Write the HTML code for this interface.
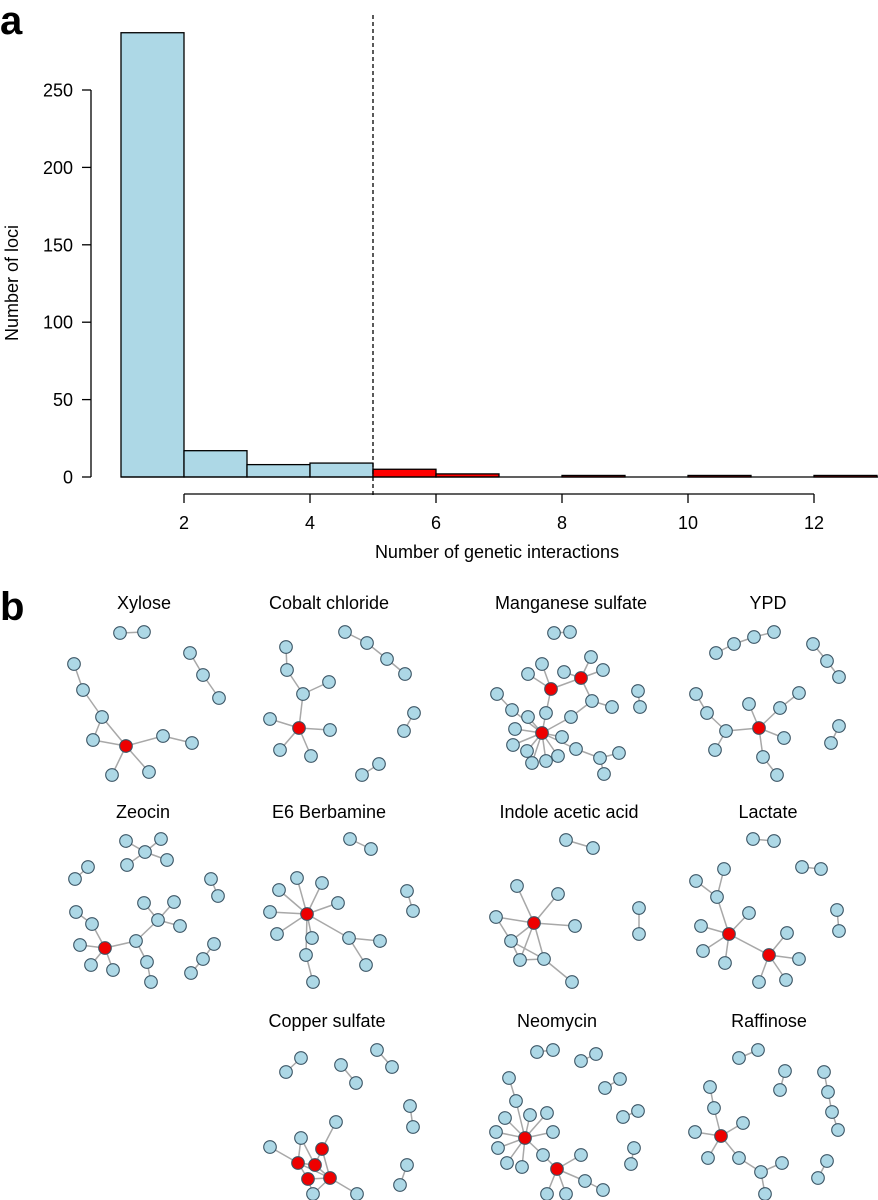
<!DOCTYPE html>
<html><head><meta charset="utf-8">
<style>
html,body{margin:0;padding:0;background:#fff;}
svg{display:block;font-family:"Liberation Sans",Arial,sans-serif;}
</style></head>
<body>
<svg id="fig" width="878" height="1200" viewBox="0 0 878 1200" xmlns="http://www.w3.org/2000/svg">
<text x="0" y="34" font-size="40" font-weight="bold">a</text>
<text x="0" y="620" font-size="40" font-weight="bold">b</text>
<g id="hist"></g>
<g id="nets"></g>
</svg>
<script>
// ---- Histogram data ----
const binStarts = [1,2,3,4,5,6,7,8,9,10,11,12];
const binCounts = [287,17,8,9,5,2,0,1,0,1,0,1];
const yTicks = [0,50,100,150,200,250];
const xTicks = [2,4,6,8,10,12];
const threshold = 5;

const NS = "http://www.w3.org/2000/svg";
function mk(tag, attrs, parent){ const e=document.createElementNS(NS,tag); for(const k in attrs) e.setAttribute(k,attrs[k]); parent.appendChild(e); return e; }
const hist = document.getElementById('hist');
const xs = v => 184 + (v-2)*63;
const ys = v => 477 - v*1.548;

binStarts.forEach((b,i)=>{
  const r = mk('rect',{x:xs(b),y:ys(binCounts[i]),width:63,height:Math.max(binCounts[i]*1.548,0),
    fill: b>=threshold ? '#ff0000' : '#add8e6', stroke:'#000','stroke-width':1.3}, hist);
  
  
});
const base = mk('line',{x1:xs(1),x2:878,y1:477,y2:477,stroke:'#000','stroke-width':1.3},hist);


const yax = mk('line',{x1:91,x2:91,y1:ys(250),y2:ys(0),stroke:'#000','stroke-width':1.3},hist);


yTicks.forEach(t=>{
  mk('line',{x1:82,x2:91,y1:ys(t),y2:ys(t),stroke:'#000','stroke-width':1.3},hist);
  const tx = mk('text',{x:73,y:ys(t)+6.5,'font-size':18,'text-anchor':'end'},hist);
  tx.textContent=t;
  
  
});
const xax = mk('line',{x1:xs(2),x2:xs(12),y1:494,y2:494,stroke:'#000','stroke-width':1.3},hist);


xTicks.forEach(t=>{
  mk('line',{x1:xs(t),x2:xs(t),y1:494,y2:503,stroke:'#000','stroke-width':1.3},hist);
  const tx = mk('text',{x:xs(t),y:529,'font-size':18,'text-anchor':'middle'},hist);
  tx.textContent=t;
  
  
});
const dl = mk('line',{x1:xs(threshold),x2:xs(threshold),y1:15,y2:496,stroke:'#000','stroke-width':1.3,'stroke-dasharray':'4,3'},hist);


const xt = mk('text',{x:497,y:558,'font-size':18,'text-anchor':'middle'},hist);
xt.textContent='Number of genetic interactions';


const yt = mk('text',{x:0,y:0,'font-size':18,'text-anchor':'middle',transform:'translate(18,283) rotate(-90)'},hist);
yt.textContent='Number of loci';



// ---- Networks ----
const nets = [
 ["Xylose",144,609,
  [[120,633],[144,632],[190,653],[203,675],[219,698],[74,664],[83,690],[102,717],[93,740],[126,746,1],[163,736],[192,743],[112,775],[149,772]],
  [[0,1],[2,3],[3,4],[5,6],[6,7],[7,9],[7,8],[8,9],[9,10],[10,11],[9,12],[9,13]]],
 ["Cobalt chloride",329,609,
  [[286,647],[287,670],[303,694],[329,682],[299,728,1],[270,719],[330,730],[280,750],[311,756],[345,632],[367,643],[387,659],[405,674],[414,713],[404,731],[379,764],[362,775]],
  [[0,1],[1,2],[2,3],[2,4],[4,5],[4,6],[4,7],[4,8],[9,10],[10,11],[11,12],[13,14],[15,16]]],
 ["Manganese sulfate",571,609,
  [[554,633],[570,632],[528,674],[542,664],[564,672],[591,657],[603,670],[551,689,1],[581,678,1],[497,694],[512,710],[528,717],[546,713],[515,729],[542,733,1],[513,745],[527,751],[532,763],[546,761],[558,756],[562,737],[571,717],[592,701],[612,707],[576,749],[600,758],[619,753],[604,774],[638,691],[640,707]],
  [[0,1],[7,2],[7,3],[8,4],[8,5],[8,6],[7,8],[7,12],[12,14],[8,22],[22,23],[22,21],[21,14],[9,10],[10,14],[11,14],[13,14],[15,14],[16,14],[17,14],[18,14],[19,14],[20,14],[14,24],[24,25],[25,26],[25,27],[28,29]]],
 ["YPD",768,609,
  [[716,653],[734,644],[754,637],[774,632],[813,644],[827,661],[839,677],[696,694],[707,713],[726,731],[715,750],[759,728,1],[749,704],[780,708],[799,693],[784,738],[763,757],[777,775],[839,726],[831,743]],
  [[0,1],[1,2],[2,3],[4,5],[5,6],[7,8],[8,9],[9,10],[9,11],[11,12],[11,13],[13,14],[11,15],[11,16],[16,17],[18,19]]],
 ["Zeocin",143,818,
  [[126,841],[161,839],[145,852],[127,865],[167,860],[88,867],[75,879],[76,912],[92,924],[80,945],[105,948,1],[91,965],[113,970],[136,941],[144,903],[174,902],[158,920],[180,926],[147,962],[151,982],[211,879],[218,896],[214,944],[203,959],[191,973]],
  [[0,2],[1,2],[3,2],[4,2],[5,6],[7,8],[8,10],[10,9],[10,11],[10,12],[10,13],[13,16],[16,14],[16,15],[16,17],[13,18],[18,19],[20,21],[22,23],[23,24]]],
 ["E6 Berbamine",329,818,
  [[350,839],[371,849],[297,878],[322,883],[279,890],[338,903],[270,912],[307,914,1],[277,934],[312,938],[306,955],[313,982],[349,938],[380,941],[366,965],[407,891],[413,911]],
  [[0,1],[7,2],[7,3],[7,4],[7,5],[7,6],[7,8],[7,9],[7,10],[10,11],[7,12],[12,13],[12,14],[15,16]]],
 ["Indole acetic acid",569,818,
  [[566,840],[593,848],[517,886],[558,894],[496,917],[534,923,1],[575,926],[511,941],[520,960],[544,959],[572,982],[639,908],[639,934]],
  [[0,1],[5,2],[5,3],[5,4],[5,6],[5,7],[5,8],[5,9],[4,7],[7,8],[7,9],[8,9],[9,10],[11,12]]],
 ["Lactate",768,818,
  [[753,839],[774,841],[802,867],[821,869],[724,869],[696,881],[717,897],[749,913],[701,926],[729,934,1],[703,951],[725,963],[769,955,1],[787,933],[799,959],[759,982],[786,980],[837,910],[839,931]],
  [[0,1],[2,3],[4,6],[5,6],[6,9],[9,7],[9,8],[9,10],[9,11],[9,12],[12,13],[12,14],[12,15],[12,16],[17,18]]],
 ["Copper sulfate",327,1027,
  [[286,1072],[301,1058],[341,1065],[356,1083],[377,1050],[392,1067],[410,1106],[413,1127],[407,1165],[400,1185],[336,1122],[301,1138],[270,1147],[322,1149,1],[298,1163,1],[315,1165,1],[308,1179,1],[330,1178,1],[313,1194],[357,1194]],
  [[0,1],[2,3],[4,5],[6,7],[8,9],[10,13],[11,14],[11,15],[12,14],[14,15],[14,16],[14,17],[13,15],[13,17],[15,17],[16,17],[16,18],[17,18],[17,19]]],
 ["Neomycin",557,1027,
  [[537,1052],[553,1050],[581,1061],[596,1054],[605,1088],[620,1079],[623,1117],[638,1111],[634,1148],[631,1164],[509,1078],[516,1101],[505,1118],[530,1115],[547,1113],[496,1132],[553,1132],[525,1138,1],[498,1148],[507,1163],[522,1167],[543,1155],[581,1155],[557,1169,1],[585,1181],[603,1190],[547,1194],[566,1194]],
  [[0,1],[2,3],[4,5],[6,7],[8,9],[10,11],[11,17],[17,12],[17,13],[17,14],[17,15],[17,16],[17,18],[17,19],[17,20],[17,21],[21,23],[23,22],[23,24],[24,25],[23,26],[23,27]]],
 ["Raffinose",769,1027,
  [[739,1058],[758,1050],[785,1071],[780,1090],[824,1072],[828,1092],[832,1112],[838,1130],[827,1161],[818,1178],[710,1087],[714,1108],[743,1123],[695,1132],[721,1136,1],[708,1158],[739,1158],[761,1172],[782,1163],[765,1194]],
  [[0,1],[2,3],[4,5],[5,6],[6,7],[8,9],[10,11],[11,14],[14,12],[14,13],[14,15],[14,16],[16,17],[17,18],[17,19]]]
];
const ng = document.getElementById('nets');
nets.forEach(n=>{
  const [title,tx,ty,nodes,edges]=n;
  const slug = title.toLowerCase().replace(/\s+/g,'-');
  const g = mk('g',{},ng);
  
  
  const t = mk('text',{x:tx,y:ty,'font-size':18,'text-anchor':'middle'},g);
  t.textContent=title;
  
  
  edges.forEach(e=>{
    const a=nodes[e[0]], b=nodes[e[1]];
    const l = mk('line',{x1:a[0],y1:a[1],x2:b[0],y2:b[1],stroke:'#a8a8a8','stroke-width':1.5},g);
    
    
  });
  nodes.forEach(p=>{
    const c = mk('circle',{cx:p[0],cy:p[1],r:6.3,fill:p[2]?'#ee0000':'#add8e6',stroke:'#3a5464','stroke-width':1.1},g);
    
    
  });
});
</script>
</body></html>
